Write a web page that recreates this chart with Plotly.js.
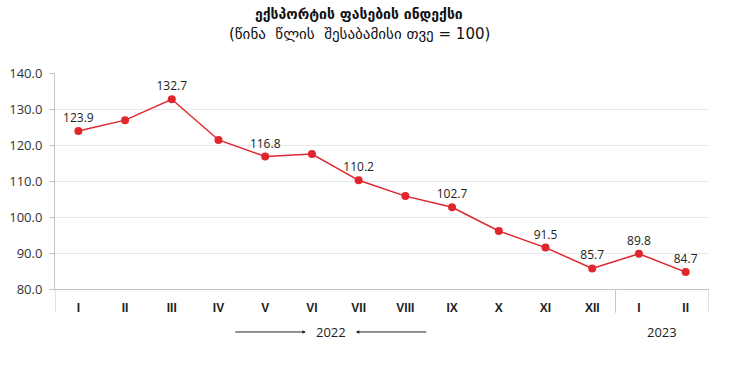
<!DOCTYPE html>
<html>
<head>
<meta charset="utf-8">
<script src="https://cdn.plot.ly/plotly-3.0.1.min.js"></script>
<style>html,body{margin:0;padding:0;background:#fff;}#chart{width:732px;height:370px;}</style>
</head>
<body>
<div id="chart"></div>
<script>
const months = ['I','II','III','IV','V','VI','VII','VIII','IX','X','XI','XII','I','II'];
const values = [123.9, 126.9, 132.7, 121.4, 116.8, 117.5, 110.2, 105.8, 102.7, 96.1, 91.5, 85.7, 89.8, 84.7];
const showLabel = [true,false,true,false,true,false,true,false,true,false,true,true,true,true];
const years = ['2022','2023'];
const titleText = 'ექსპორტის ფასების ინდექსი';
const subtitleText = '(წინა  წლის  შესაბამისი თვე = 100)';

const xs = months.map((m,i)=>i);
const labels = values.map((v,i)=> showLabel[i] ? v.toFixed(1) : '');

const trace = {
  x: xs, y: values, type:'scatter', mode:'lines+markers+text',
  text: labels, textposition:'top center',
  textfont:{family:'Open Sans, DejaVu Sans, sans-serif', size:12, color:'#222'},
  line:{color:'#e0262c', width:1.5},
  marker:{color:'#e0262c', size:8},
  cliponaxis:false, hoverinfo:'skip'
};

const gray = '#c4c4c4';
const txtFont = {family:'Open Sans, DejaVu Sans, sans-serif', size:13, color:'#222'};
const layout = {
  width:732, height:370,
  margin:{l:55, r:23, t:73, b:81},
  paper_bgcolor:'#fff', plot_bgcolor:'#fff',
  showlegend:false,
  xaxis:{
    range:[-0.5, xs.length-0.5],
    tickmode:'array', tickvals:xs, ticktext:months.map(m=>'<b>'+m+'</b>'),
    tickfont:{family:'Liberation Sans, Arial, sans-serif', size:12, color:'#222'},
    showgrid:false, zeroline:false, showline:true, linecolor:gray, linewidth:1,
    ticks:'', ticklabelstandoff:8, fixedrange:true
  },
  yaxis:{
    range:[80,140], dtick:10, tickformat:'.1f',
    tickfont:{family:'Open Sans, DejaVu Sans, sans-serif', size:13, color:'#333'},
    showgrid:true, gridcolor:'#e8e8e8', gridwidth:1, zeroline:false,
    showline:true, linecolor:gray, linewidth:1,
    ticks:'outside', ticklen:5, tickcolor:gray, ticklabelstandoff:4, fixedrange:true
  },
  shapes:[
    {type:'line', xref:'x', yref:'paper', x0:-0.5, x1:-0.5, y0:0, y1:-0.11, line:{color:gray, width:1}},
    {type:'line', xref:'x', yref:'paper', x0:11.5, x1:11.5, y0:0, y1:-0.11, line:{color:gray, width:1}},
    {type:'line', xref:'x', yref:'paper', x0:13.5, x1:13.5, y0:0, y1:-0.11, line:{color:gray, width:1}}
  ],
  annotations:[
    {xref:'paper', yref:'paper', x:0.465, y:1.273, yanchor:'middle', xanchor:'center',
     text:'<b>'+titleText+'</b>', showarrow:false,
     font:{family:'DejaVu Sans, sans-serif', size:14, color:'#111'}},
    {xref:'paper', yref:'paper', x:0.465, y:1.181, yanchor:'middle', xanchor:'center',
     text:subtitleText, showarrow:false,
     font:{family:'DejaVu Sans, sans-serif', size:15, color:'#111'}},
    {xref:'x', yref:'paper', x:5.4, y:-0.199, yanchor:'middle', text:years[0], showarrow:false, font:txtFont},
    {xref:'x', yref:'paper', x:12.5, y:-0.199, yanchor:'middle', text:years[1], showarrow:false, font:txtFont},
    {xref:'x', yref:'paper', x:4.87, y:-0.199, text:'', showarrow:true, ax:-72, ay:0,
     arrowhead:2, arrowsize:0.7, arrowwidth:1, arrowcolor:'#222', standoff:0},
    {xref:'x', yref:'paper', x:5.94, y:-0.199, text:'', showarrow:true, ax:72, ay:0,
     arrowhead:2, arrowsize:0.7, arrowwidth:1, arrowcolor:'#222', standoff:0}
  ]
};

Plotly.newPlot('chart', [trace], layout, {staticPlot:true, displayModeBar:false});
</script>
</body>
</html>
